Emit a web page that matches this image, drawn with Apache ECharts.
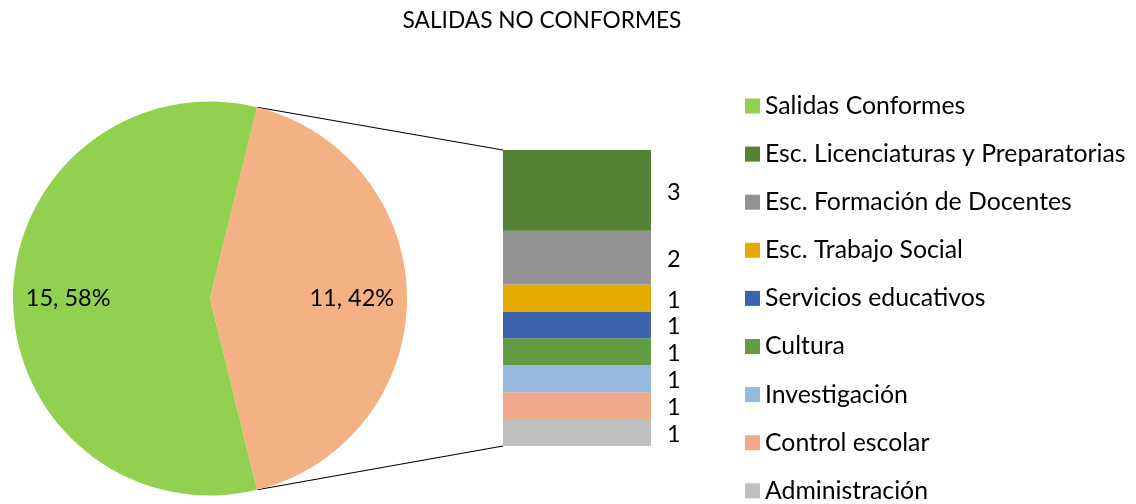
<!DOCTYPE html>
<html>
<head>
<meta charset="utf-8">
<script src="https://cdn.jsdelivr.net/npm/echarts@6/dist/echarts.min.js"></script>
<style>
  html, body { margin: 0; padding: 0; background: #fff; }
  #main { width: 1136px; height: 504px; }
</style>
</head>
<body>
<div id="main"></div>
<script>
// datos del grafico
var pieNames = ['Salidas Conformes', 'Otros'];
var pieValues = [15, 11];
var pieColors = ['#92D050', '#F4B183'];

var barNames = ['Esc. Licenciaturas y Preparatorias', 'Esc. Formación de Docentes', 'Esc. Trabajo Social',
  'Servicios educativos', 'Cultura', 'Investigación', 'Control escolar', 'Administración'];
var barValues = [3, 2, 1, 1, 1, 1, 1, 1];
var barColors = ['#548235', '#929292', '#E3AB00', '#3B64AD', '#629B41', '#97B9E0', '#F0A98A', '#BFBFBF'];

var FONT = 'Lato';

// geometria
var pieCx = 210, pieCy = 298.5, pieR = 197;
var gLeft = 503, gTop = 150, gW = 148, gH = 296;

var total = pieValues.reduce(function (a, b) { return a + b; }, 0);
var barTotal = barValues.reduce(function (a, b) { return a + b; }, 0);
// la porcion "Otros" queda centrada a la derecha
var half = pieValues[1] / total * 180;

var chart = echarts.init(document.getElementById('main'));

var series = [{
  type: 'pie',
  center: [pieCx, pieCy],
  radius: [0, pieR],
  startAngle: half,
  clockwise: false,
  silent: true,
  data: pieNames.map(function (n, i) {
    return { name: n, value: pieValues[i], itemStyle: { color: pieColors[i] } };
  }),
  label: {
    show: true,
    position: 'inside',
    color: '#000',
    fontFamily: FONT,
    fontSize: 23.5,
    formatter: function (p) { return p.value + ', ' + Math.round(p.percent) + '%'; }
  },
  labelLayout: function (p) {
    var c = p.rect.x + p.rect.width / 2;
    return { x: pieCx + (c < pieCx ? -1 : 1) * pieR * 0.72, align: 'center' };
  },
  labelLine: { show: false }
}];

// apilado de abajo hacia arriba
for (var i = barNames.length - 1; i >= 0; i--) {
  series.push({
    type: 'bar',
    name: barNames[i],
    stack: 'otros',
    barWidth: '100%',
    silent: true,
    itemStyle: { color: barColors[i] },
    data: [barValues[i]],
    label: {
      show: true,
      position: 'right',
      distance: 16,
      offset: [0, 2],
      color: '#000',
      fontFamily: FONT,
      fontSize: 23.5
    }
  });
}

var legendNames = [pieNames[0]].concat(barNames);

chart.setOption({
  animation: false,
  title: {
    text: 'SALIDAS NO CONFORMES',
    left: 542,
    textAlign: 'center',
    top: 9,
    padding: 0,
    textStyle: { fontFamily: FONT, fontSize: 22.7, fontWeight: 'normal', color: '#000' }
  },
  legend: {
    data: legendNames,
    orient: 'vertical',
    left: 745,
    top: 93,
    height: 440,
    itemWidth: 15,
    itemHeight: 15,
    itemGap: 22.1,
    icon: 'rect',
    padding: 0,
    selectedMode: false,
    textStyle: { fontFamily: FONT, fontSize: 24.8, color: '#000', lineHeight: 26 }
  },
  grid: { left: gLeft, top: gTop, width: gW, height: gH },
  xAxis: { type: 'category', data: [''], show: false },
  yAxis: { type: 'value', min: 0, max: barTotal, show: false },
  series: series
});

// lineas de union entre el pastel y la barra
var ax = pieCx + pieR * Math.cos(half * Math.PI / 180);
var ay = pieR * Math.sin(half * Math.PI / 180);
chart.setOption({
  graphic: [
    { type: 'line', shape: { x1: ax, y1: pieCy - ay, x2: gLeft, y2: gTop }, style: { stroke: '#000', lineWidth: 1.2 } },
    { type: 'line', shape: { x1: ax, y1: pieCy + ay, x2: gLeft, y2: gTop + gH }, style: { stroke: '#000', lineWidth: 1.2 } }
  ]
});
</script>
</body>
</html>
